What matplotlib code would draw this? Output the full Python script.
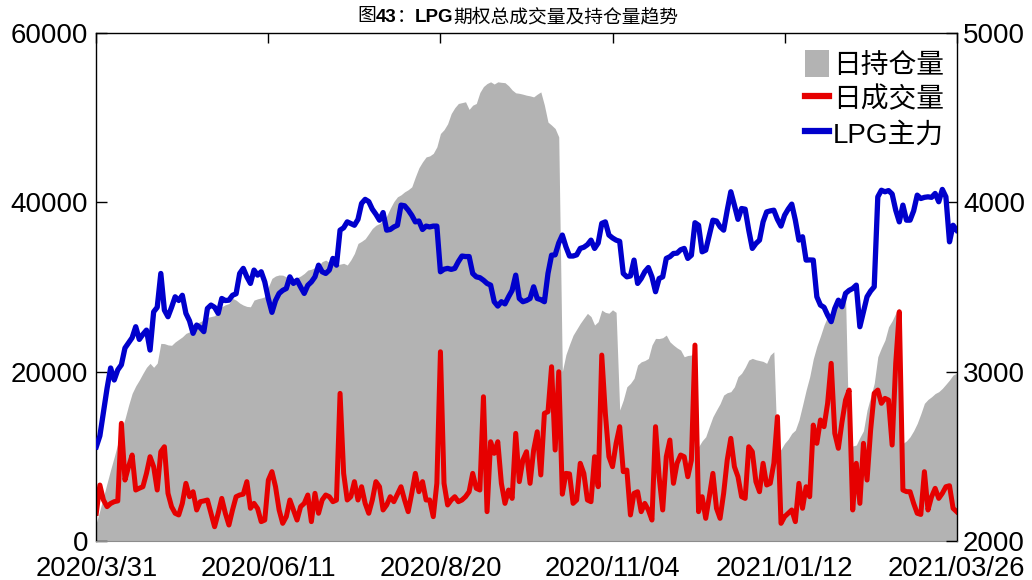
import matplotlib
matplotlib.use("Agg")
import matplotlib.pyplot as plt
from matplotlib.patches import Patch
from matplotlib.lines import Line2D
from matplotlib.text import Annotation
import numpy as np

# Daily open interest (left axis)
open_interest = [
    2090, 3600, 5200, 6800, 8400, 9900, 11500, 13080, 14400, 16000,
    17420, 18300, 19000, 19780, 20500, 20970, 20500, 21000, 23330, 23300,
    23150, 23100, 23500, 23800, 24100, 24510, 24700, 25200, 25700, 25900,
    26100, 26400, 26500, 26600, 27100, 27660, 27900, 28040, 28640, 28450,
    28100, 27860, 27700, 27660, 28450, 28600, 28700, 28840, 30000, 31020,
    31300, 31420, 31400, 31200, 31020, 31000, 31100, 31300, 31600, 32000,
    32100, 32300, 32500, 33000, 33180, 32900, 32700, 32590, 32700, 32800,
    32600, 33200, 33970, 35150, 35400, 35700, 36300, 36920, 37300, 37500,
    37900, 38400, 39300, 40100, 40660, 40900, 41250, 41500, 41840, 43020,
    44100, 44800, 45380, 45500, 45800, 46570, 48150, 48600, 49300, 50510,
    51200, 51700, 51800, 51900, 51000, 51500, 51700, 53000, 53700, 54060,
    54260, 54000, 54260, 54200, 54160, 53800, 53300, 52960, 52900, 52800,
    52680, 52600, 52480, 52800, 53070, 51500, 49500, 49140, 48740, 47750,
    20000, 22000, 23200, 24300, 25000, 25700, 26300, 26880, 26500, 25500,
    25900, 27270, 27000, 26900, 27300, 27000, 15450, 16630, 18200, 18600,
    19200, 20770, 21150, 21300, 21550, 23130, 23920, 23900, 24000, 24310,
    23520, 23130, 22800, 22540, 21750, 21900, 21950, 22600, 11110, 11800,
    12290, 13500, 14660, 15450, 16200, 17220, 17500, 17620, 18200, 19400,
    19800, 20500, 21360, 21560, 21400, 21300, 21200, 20970, 21950, 22340,
    10330, 10800, 11510, 12000, 12690, 13080, 14270, 16000, 17800, 19380,
    21500, 23000, 24200, 25500, 26500, 27070, 28060, 28500, 28840, 28900,
    11110, 11200, 11310, 12200, 13000, 15450, 17000, 18600, 21750, 22800,
    23720, 25290, 26000, 26900, 27500, 11500, 11800, 12290, 13000, 13870,
    15000, 16240, 16700, 17020, 17400, 17620, 18010, 18500, 19000, 19590,
    19800,
]

# Daily traded volume (left axis)
volume = [
    3240, 6580, 4810, 4020, 4400, 4610, 4700, 13880, 7170, 8750,
    10130, 5990, 6200, 6380, 7960, 9930, 8750, 5990, 10520, 11110,
    5600, 4020, 3240, 3040, 4410, 6780, 5200, 5790, 3630, 4610,
    4700, 4810, 3240, 1650, 3240, 5000, 3240, 1850, 3630, 5200,
    5400, 5500, 6980, 3830, 4410, 3800, 2250, 2440, 7170, 8160,
    6380, 3630, 2050, 2840, 4810, 3630, 2440, 4020, 4410, 5400,
    2250, 5600, 3240, 4810, 5400, 5200, 4610, 4800, 17420, 7960,
    4810, 5200, 6980, 4810, 6380, 4410, 3240, 4810, 6980, 6380,
    3630, 4220, 5200, 4610, 5500, 6380, 4810, 3430, 5600, 7960,
    5790, 6980, 4810, 4810, 2840, 6780, 22340, 6780, 4220, 4800,
    5200, 4610, 4810, 5200, 5790, 7960, 6190, 5990, 17020, 3430,
    11700, 10330, 11700, 6780, 4410, 5990, 5000, 12690, 6980, 9540,
    10520, 6780, 10720, 12880, 7770, 15060, 15250, 20570, 10720, 19980,
    5500, 7960, 7900, 4410, 4810, 9150, 7960, 4810, 4610, 9930,
    6380, 21950, 15060, 9930, 8750, 11510, 13480, 8160, 8350, 3040,
    5600, 5790, 3430, 4410, 3630, 2440, 13480, 7560, 3630, 9930,
    11900, 6780, 9150, 10130, 9930, 7560, 9500, 23130, 3430, 5200,
    2640, 5200, 7960, 3830, 2640, 5600, 9540, 12100, 8750, 7560,
    5200, 5000, 11110, 10520, 6980, 5790, 9150, 6580, 6780, 9150,
    14660, 2050, 2840, 3240, 3630, 2250, 6780, 3830, 6380, 5200,
    13670, 11510, 14270, 13480, 16240, 20970, 12690, 10920, 14000, 16630,
    17810, 3630, 9150, 4410, 11510, 7170, 13080, 17420, 17810, 16240,
    16830, 16630, 11310, 20970, 27070, 5990, 5800, 5790, 4410, 3240,
    3100, 8160, 3630, 5200, 6190, 5000, 5600, 6380, 6500, 3830,
    3430,
]

# LPG main contract price (right axis)
price = [
    2555, 2620, 2760, 2900, 3021, 2950, 3010, 3040, 3139, 3170,
    3200, 3265, 3190, 3220, 3245, 3127, 3353, 3380, 3580, 3363,
    3324, 3380, 3442, 3420, 3451, 3344, 3300, 3226, 3275, 3260,
    3236, 3373, 3393, 3380, 3344, 3432, 3420, 3422, 3451, 3460,
    3580, 3610, 3560, 3521, 3600, 3570, 3590, 3530, 3430, 3350,
    3420, 3462, 3480, 3491, 3560, 3521, 3540, 3500, 3462, 3510,
    3530, 3560, 3629, 3590, 3580, 3600, 3669, 3629, 3836, 3850,
    3885, 3875, 3865, 3900, 3994, 4018, 4005, 3960, 3930, 3895,
    3940, 3836, 3840, 3855, 3865, 3984, 3980, 3955, 3924, 3885,
    3890, 3840, 3860, 3855, 3860, 3860, 3590, 3605, 3610, 3604,
    3610, 3650, 3683, 3680, 3680, 3580, 3560, 3555, 3540, 3521,
    3511, 3413, 3387, 3413, 3400, 3442, 3480, 3570, 3432, 3413,
    3420, 3432, 3501, 3432, 3425, 3413, 3580, 3688, 3690, 3760,
    3807, 3738, 3683, 3683, 3690, 3728, 3735, 3750, 3777, 3728,
    3760, 3876, 3885, 3807, 3790, 3777, 3770, 3580, 3560, 3565,
    3659, 3521, 3550, 3590, 3615, 3560, 3472, 3550, 3560, 3669,
    3679, 3698, 3700, 3720, 3728, 3669, 3688, 3880, 3865, 3708,
    3718, 3807, 3895, 3890, 3856, 3836, 3954, 4063, 3984, 3900,
    3964, 3960, 3836, 3728, 3757, 3777, 3885, 3944, 3950, 3954,
    3900, 3860, 3924, 3960, 3990, 3895, 3777, 3797, 3659, 3660,
    3659, 3442, 3393, 3380, 3334, 3295, 3373, 3422, 3383, 3462,
    3480, 3491, 3511, 3265, 3353, 3442, 3476, 3501, 4033, 4072,
    4063, 4070, 4050, 3954, 3885, 3984, 3895, 3895, 3950, 4043,
    4023, 4030, 4033, 4030, 4053, 4004, 4077, 4033, 3767, 3865,
    3836,
]

# Date labels and the trading-day index each one sits on
date_labels = ["2020/3/31", "2020/06/11", "2020/8/20",
               "2020/11/04", "2021/01/12", "2021/03/26"]
date_index = [0, 48, 96, 144, 192, 240]

series_names = ["日持仓量", "日成交量", "LPG主力"]
title_parts = [("图", "normal"), ("43", "bold"), ("：", "normal"),
               ("LPG", "bold"), ("期权总成交量及持仓量趋势", "normal")]

mixed_font = ["Liberation Sans", "Noto Sans CJK SC"]
plt.rcParams["font.family"] = mixed_font

GRAY = "#b3b3b3"
RED = "#e60000"
BLUE = "#0000cc"

fig = plt.figure(figsize=(10.32, 5.8), dpi=100)
ax = fig.add_axes([0.0933, 0.0678, 0.8337, 0.8748])

x = np.arange(len(open_interest))
ax.fill_between(x, 0, open_interest, color=GRAY, lw=0, zorder=1)
ax.plot(x, volume, color=RED, lw=3.6, solid_joinstyle="round", zorder=2)

ax.set_xlim(0, len(open_interest) - 1)
ax.set_ylim(0, 60000)
ax.set_yticks([0, 20000, 40000, 60000])
ax.set_xticks(date_index)
ax.set_xticklabels(date_labels)

ax.tick_params(axis="y", direction="in", length=8, width=1,
               pad=6, labelsize=20)
ax.tick_params(axis="x", bottom=False, top=True, direction="in",
               length=7, width=1, pad=11, labelsize=19.7,
               labelbottom=True, labeltop=False)
for side in ("left", "top", "right"):
    ax.spines[side].set_color("black")
    ax.spines[side].set_linewidth(1)
ax.spines["bottom"].set_color("#8c8c8c")

ax2 = ax.twinx()
ax2.plot(x, price, color=BLUE, lw=3.8, solid_joinstyle="round")
ax2.set_ylim(2000, 5000)
ax2.set_yticks([2000, 3000, 4000, 5000])
ax2.tick_params(axis="y", direction="in", length=8, width=1,
                pad=4.5, labelsize=20)
for side in ax2.spines:
    ax2.spines[side].set_visible(False)

handles = [
    Patch(facecolor=GRAY, edgecolor="none"),
    Line2D([], [], color=RED, lw=4.5),
    Line2D([], [], color=BLUE, lw=4.5),
]
ax2.legend(handles, series_names,
           loc="upper right", bbox_to_anchor=(0.985, 0.968),
           frameon=False, borderpad=0, borderaxespad=0,
           handlelength=0.85, handleheight=1.15, handletextpad=0.15,
           labelspacing=0.2,
           prop={"family": mixed_font, "size": 20})

# Title assembled from pieces so the figure number and ticker are bold
anchor = fig.text(357 / 1032, 1 - 17 / 580, title_parts[0][0], ha="left",
                  va="center", fontsize=13.5, fontweight=title_parts[0][1])
for text, weight in title_parts[1:]:
    anchor = fig.add_artist(Annotation(
        text, xy=(1, 0.5), xycoords=anchor, xytext=(0, 0),
        textcoords="offset points", ha="left", va="center",
        fontsize=13.5, fontweight=weight))

fig.savefig("out.png", dpi=100)
